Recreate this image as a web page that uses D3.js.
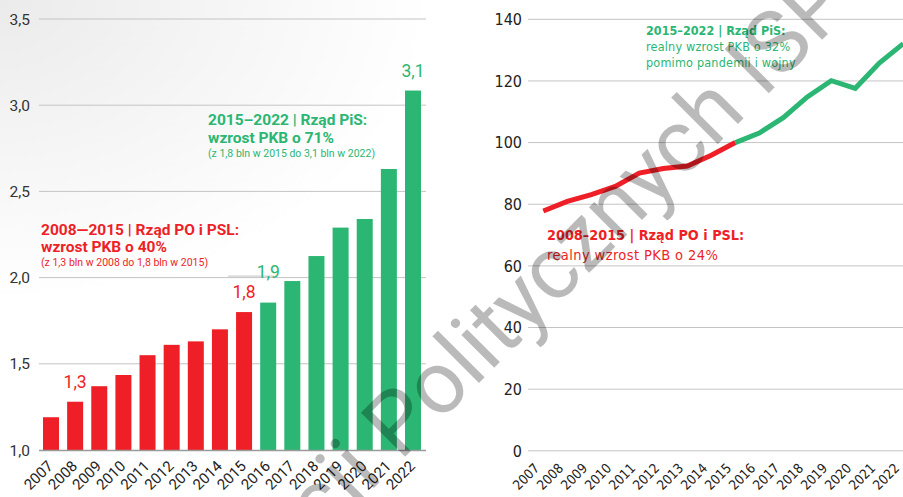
<!DOCTYPE html>
<html><head><meta charset="utf-8">
<script src="https://cdn.jsdelivr.net/npm/d3@7"></script>
<style>body{margin:0;background:#fff}svg{display:block}</style>
</head><body>
<svg id="c" width="903" height="497"></svg>
<script>
// ---- data ----
const years = ["2007","2008","2009","2010","2011","2012","2013","2014","2015","2016","2017","2018","2019","2020","2021","2022"];
const gdpNominal = [1.19,1.28,1.37,1.435,1.55,1.61,1.63,1.70,1.80,1.855,1.98,2.125,2.29,2.34,2.63,3.085];
const govPeriod = ["PO","PO","PO","PO","PO","PO","PO","PO","PO","PiS","PiS","PiS","PiS","PiS","PiS","PiS"];
const barLabels = [{year:"2008",text:"1,3",gov:"PO"},{year:"2015",text:"1,8",gov:"PO"},{year:"2016",text:"1,9",gov:"PiS"},{year:"2022",text:"3,1",gov:"PiS"}];
const leftTicks = [1.0,1.5,2.0,2.5,3.0,3.5];
const gdpReal = [77.8,80.9,83.1,85.8,90.1,91.6,92.4,95.9,100,103.1,108.1,114.8,120.1,117.6,125.8,132.1];
const rightTicks = [0,20,40,60,80,100,120,140];

const RED="#ee1f26", GREEN="#2bb673";
const col = g => g==="PO"?RED:GREEN;
const svg = d3.select("#c");
const defs = svg.append("defs");
const rg = defs.append("radialGradient").attr("id","bg").attr("cx","0").attr("cy","0").attr("r","1")
  .attr("gradientUnits","objectBoundingBox");
rg.append("stop").attr("offset","0").attr("stop-color","#ebebeb");
rg.append("stop").attr("offset","1").attr("stop-color","#ffffff");
svg.append("rect").attr("x",0).attr("y",0).attr("width",430).attr("height",300).attr("fill","url(#bg)");

// ---- left chart ----
const FL = "Roboto, 'Noto Sans', sans-serif";
const yL = d3.scaleLinear().domain([1,3.5]).range([450,19]);
const xL = d3.scaleBand().domain(years).range([39,425]).paddingInner(0.337).paddingOuter(0.166);
const gL = svg.append("g");
gL.selectAll("line.grid").data(leftTicks.slice(1)).join("line")
  .attr("x1",39).attr("x2",426).attr("y1",d=>yL(d)).attr("y2",d=>yL(d))
  .attr("stroke","#c4c4c4").attr("stroke-width",1);
gL.selectAll("text.tick").data(leftTicks).join("text")
  .attr("x",30).attr("y",d=>yL(d)).attr("dy","0.36em").attr("text-anchor","end")
  .attr("font-family",FL).attr("font-size",15.5).attr("fill","#333")
  .text(d=>d3.format(".1f")(d).replace(".",","));
gL.selectAll("rect.bar").data(years).join("rect")
  .attr("x",d=>xL(d)).attr("width",xL.bandwidth())
  .attr("y",(d,i)=>yL(gdpNominal[i])).attr("height",(d,i)=>yL(1)-yL(gdpNominal[i]))
  .attr("fill",(d,i)=>col(govPeriod[i]));
gL.append("line").attr("x1",39).attr("x2",426).attr("y1",yL(1)+0.5).attr("y2",yL(1)+0.5)
  .attr("stroke","#9a9a9a").attr("stroke-width",1.5);
// small line near 1,9
gL.append("line").attr("x1",xL("2015")-8).attr("x2",xL("2016")+xL.bandwidth()-2)
  .attr("y1",yL(2.0)-1.5).attr("y2",yL(2.0)-1.5).attr("stroke","#c4c4c4").attr("stroke-width",1);
gL.selectAll("text.vl").data(barLabels).join("text")
  .attr("x",d=>xL(d.year)+xL.bandwidth()/2)
  .attr("y",d=>yL(gdpNominal[years.indexOf(d.year)]) - (d.year==="2016"?25:14))
  .attr("text-anchor","middle").attr("font-family",FL).attr("font-size",17.5)
  .attr("fill",d=>col(d.gov)).text(d=>d.text);
gL.selectAll("text.xl").data(years).join("text")
  .attr("transform",d=>`translate(${xL(d)+xL.bandwidth()/2+3},${467}) rotate(-45)`)
  .attr("text-anchor","end").attr("font-family",FL).attr("font-size",15).attr("fill","#222")
  .text(d=>d);
// annotations left
const annL = [
  {x:208,y:125,t:"2015–2022 | Rząd PiS:",w:"bold",s:15.5,c:GREEN},
  {x:208,y:143,t:"wzrost PKB o 71%",w:"bold",s:15.5,c:GREEN},
  {x:208,y:157,t:"(z 1,8 bln w 2015 do 3,1 bln w 2022)",w:"normal",s:10.5,c:GREEN},
  {x:41,y:235,t:"2008—2015 | Rząd PO i PSL:",w:"bold",s:15.5,c:RED},
  {x:41,y:252,t:"wzrost PKB o 40%",w:"bold",s:15.5,c:RED},
  {x:41,y:266,t:"(z 1,3 bln w 2008 do 1,8 bln w 2015)",w:"normal",s:10.5,c:RED}
];
gL.selectAll("text.ann").data(annL).join("text")
  .attr("x",d=>d.x).attr("y",d=>d.y).attr("font-family",FL).attr("font-weight",d=>d.w)
  .attr("font-size",d=>d.s).attr("fill",d=>d.c).text(d=>d.t);

// ---- right chart ----
const FR = "'DejaVu Sans Condensed', 'DejaVu Sans', sans-serif";
const yR = d3.scaleLinear().domain([0,140]).range([450.8,19.3]);
const xR = d3.scalePoint().domain(years).range([543.3,903.3]);
const gR = svg.append("g");
gR.selectAll("line.grid").data(rightTicks).join("line")
  .attr("x1",528).attr("x2",903).attr("y1",d=>yR(d)).attr("y2",d=>yR(d))
  .attr("stroke","#c4c4c4").attr("stroke-width",1);
gR.selectAll("text.tick").data(rightTicks).join("text")
  .attr("x",522).attr("y",d=>yR(d)).attr("dy","0.36em").attr("text-anchor","end")
  .attr("font-family",FR).attr("font-size",16).attr("fill","#222").text(d=>d);
gR.selectAll("text.xl").data(years).join("text")
  .attr("transform",d=>`translate(${xR(d)-3},${469}) rotate(-45)`)
  .attr("text-anchor","end").attr("font-family",FR).attr("font-size",13.5).attr("fill","#222")
  .text(d=>d);
const pts = years.map((y,i)=>({y,v:gdpReal[i],g:govPeriod[i]}));
const line = d3.line().x(d=>xR(d.y)).y(d=>yR(d.v));
const iSplit = years.indexOf("2015");
gR.append("path").datum(pts.slice(0,iSplit+1)).attr("d",line)
  .attr("fill","none").attr("stroke",RED).attr("stroke-width",5);
gR.append("path").datum(pts.slice(iSplit)).attr("d",line)
  .attr("fill","none").attr("stroke",GREEN).attr("stroke-width",5);
const annR = [
  {x:646,y:35,t:"2015–2022 | Rząd PiS:",w:"bold",s:12.5,c:GREEN,ls:0},
  {x:646,y:51,t:"realny wzrost PKB o 32%",w:"normal",s:12.5,c:GREEN,ls:0.2},
  {x:646,y:67,t:"pomimo pandemii i wojny",w:"normal",s:12.5,c:GREEN,ls:0.2},
  {x:547,y:240,t:"2008–2015 | Rząd PO i PSL:",w:"bold",s:14.3,c:RED,ls:0},
  {x:547,y:260,t:"realny wzrost PKB o 24%",w:"normal",s:14.5,c:RED,ls:0.4}
];
gR.selectAll("text.ann").data(annR).join("text")
  .attr("x",d=>d.x).attr("y",d=>d.y).attr("font-family",FR).attr("font-weight",d=>d.w)
  .attr("letter-spacing",d=>d.ls)
  .attr("font-size",d=>d.s).attr("fill",d=>d.c).text(d=>d.t);

// ---- watermark ----
const wm = svg.append("g").attr("transform","translate(400,462) rotate(-45)")
  .attr("font-family",FL).attr("font-size",88).attr("fill","#000").attr("fill-opacity",0.27);
wm.append("text").attr("x",0).attr("y",0).text("Politycznych ISP");
wm.append("text").attr("x",-22).attr("y",0).attr("text-anchor","end").text("Fundacji");
</script>
</body></html>
